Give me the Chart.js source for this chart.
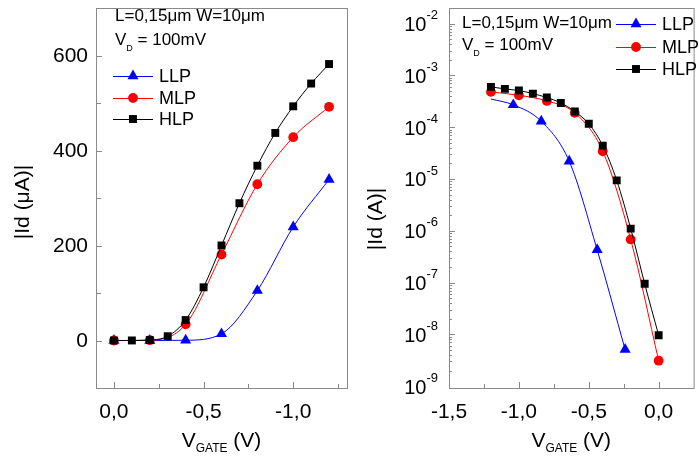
<!DOCTYPE html>
<html>
<head>
<meta charset="utf-8">
<script src="https://cdn.jsdelivr.net/npm/chart.js@4.4.0/dist/chart.umd.min.js"></script>
<style>
  html, body { margin: 0; padding: 0; background: #fff; overflow: hidden; }
  #wrap { position: relative; width: 699px; height: 470px; }
  #linWrap { position: absolute; left: 0; top: 0; width: 360px; height: 470px; }
  #logWrap { position: absolute; left: 360px; top: 0; width: 340px; height: 470px; }
</style>
</head>
<body>
<div id="wrap">
  <div id="linWrap"><canvas id="linChart" width="360" height="470"></canvas></div>
  <div id="logWrap"><canvas id="logChart" width="340" height="470"></canvas></div>
</div>
<script>
// ---- data: left panel, |Id| in uA ----
const linGateHLP = [0, -0.1, -0.2, -0.3, -0.4, -0.5, -0.6, -0.7, -0.8, -0.9, -1.0, -1.1, -1.2];
const linGateStep = [0, -0.2, -0.4, -0.6, -0.8, -1.0, -1.2];
const linLLP = [0, 0, 0.5, 14, 105, 239, 339];
const linMLP = [0, 0.7, 34, 181, 329, 428, 492];
const linHLP = [0, 0.1, 1, 9, 43, 112, 200, 289, 368, 437, 493, 541, 582];

// ---- data: right panel, |Id| in A ----
const logGateHLP = [-1.2, -1.1, -1.0, -0.9, -0.8, -0.7, -0.6, -0.5, -0.4, -0.3, -0.2, -0.1, 0];
const logHLP = [6.0e-4, 5.48e-4, 5.09e-4, 4.45e-4, 3.73e-4, 2.94e-4, 2.0e-4, 1.16e-4, 4.4e-5, 9.4e-6, 1.1e-6, 9.5e-8, 9.6e-9];
const logGateMLP = [-1.2, -1.0, -0.8, -0.6, -0.4, -0.2, 0];
const logMLP = [4.8e-4, 4.13e-4, 3.21e-4, 1.89e-4, 3.43e-5, 6.8e-7, 3.1e-9];
const logGateLLP = [-1.2, -1.04, -0.84, -0.64, -0.44, -0.24];
const logLLP = [3.5e-4, 2.7e-4, 1.3e-4, 2.2e-5, 4.3e-7, 5.1e-9];

const seriesNames = ['LLP', 'MLP', 'HLP'];
const seriesColors = ['#0000ff', '#ff0000', '#000000'];
const seriesMarkers = ['triangle', 'circle', 'rect'];
const seriesRadius = [6.4, 4.9, 5.6];

const FONT = '"Liberation Sans", Arial, Helvetica, sans-serif';
const frameColor = '#8a8a8a';

function zip(xs, ys) { return xs.map((x, i) => ({ x: x, y: ys[i] })); }
function fmtComma(v) { return (Math.abs(v) < 1e-9 ? 0 : v).toFixed(1).replace('.', ','); }
function onStep(v, step) { return Math.abs(v / step - Math.round(v / step)) < 1e-6; }

function makeDatasets(lists) {
  return lists.map((pts, i) => ({
    label: seriesNames[i],
    data: pts.data,
    borderColor: seriesColors[i],
    backgroundColor: seriesColors[i],
    pointBackgroundColor: seriesColors[i],
    pointStyle: seriesMarkers[i],
    pointRadius: pts.radius || seriesRadius[i],
    pointBorderWidth: 0,
    borderWidth: 1,
    cubicInterpolationMode: 'monotone',
    order: 3 - i
  }));
}

// mixed text with sub/superscripts: parts = [[text, size, dy]]
function drawRich(ctx, parts, x, y, align) {
  let total = 0;
  parts.forEach(p => { ctx.font = p[1] + 'px ' + FONT; total += ctx.measureText(p[0]).width; });
  let cx = align === 'center' ? x - total / 2 : (align === 'right' ? x - total : x);
  ctx.textAlign = 'left';
  ctx.textBaseline = 'middle';
  parts.forEach(p => {
    ctx.font = p[1] + 'px ' + FONT;
    ctx.fillText(p[0], cx, y + p[2]);
    cx += ctx.measureText(p[0]).width;
  });
}

function drawMarker(ctx, style, r, x, y, color) {
  ctx.fillStyle = color;
  if (Chart.helpers && Chart.helpers.drawPoint) {
    Chart.helpers.drawPoint(ctx, { pointStyle: style, radius: r, rotation: 0, borderWidth: 0 }, x, y);
  }
}

// tick every quarter volt inside the axis range
function quarterTicks(scale) {
  const list = [];
  for (let k = Math.ceil(scale.min / 0.25 - 1e-9); k * 0.25 <= scale.max + 1e-9; k++) {
    list.push({ value: k * 0.25 });
  }
  scale.ticks = list;
}

function panelPlugin(cfg) {
  return {
    id: 'panel',
    beforeDatasetsDraw(chart) {
      const { ctx, chartArea: a } = chart;
      const xs = chart.scales.x, ys = chart.scales.y;
      ctx.save();
      ctx.strokeStyle = frameColor;
      ctx.lineWidth = 1;
      ctx.strokeRect(a.left + 0.5, a.top + 0.5, a.right - a.left, a.bottom - a.top);
      ctx.beginPath();
      xs.ticks.forEach(t => {
        const px = Math.round(xs.getPixelForValue(t.value)) + 0.5;
        if (px <= a.left + 2 || px >= a.right - 2) return;
        const len = onStep(t.value, 0.5) ? 6 : 4;
        ctx.moveTo(px, a.bottom);
        ctx.lineTo(px, a.bottom - len);
      });
      ys.ticks.forEach(t => {
        const py = Math.round(ys.getPixelForValue(t.value)) + 0.5;
        if (py <= a.top + 2 || py >= a.bottom - 2) return;
        const len = cfg.isMajorY(t.value) ? 6 : (cfg.log ? 3 : 5);
        ctx.moveTo(a.left, py);
        ctx.lineTo(a.left + len, py);
      });
      ctx.stroke();
      ctx.restore();
    },
    afterDraw(chart) {
      const { ctx, chartArea: a } = chart;
      const xs = chart.scales.x, ys = chart.scales.y;
      ctx.save();
      ctx.fillStyle = '#000';
      // x tick labels
      ctx.font = '21px ' + FONT;
      ctx.textAlign = 'center';
      ctx.textBaseline = 'middle';
      xs.ticks.forEach(t => {
        if (!onStep(t.value, 0.5)) return;
        const px = xs.getPixelForValue(t.value);
        if (px > a.right - 3) return;
        ctx.fillText(fmtComma(t.value), px, 412);
      });
      // y tick labels
      ys.ticks.forEach(t => {
        if (!cfg.isMajorY(t.value)) return;
        const py = ys.getPixelForValue(t.value);
        if (cfg.log) {
          const e = Math.round(Math.log10(t.value));
          drawRich(ctx, [['10', 20, 2], [String(e), 13, -8]], a.left - 11, py, 'right');
        } else {
          if (t.value < 0 || py < a.top + 3) return;
          ctx.font = '21px ' + FONT;
          ctx.textAlign = 'right';
          ctx.textBaseline = 'middle';
          ctx.fillText(String(t.value), a.left - 8, py + 1);
        }
      });
      // x title
      drawRich(ctx, [['V', 21, 0], ['GATE', 12, 8], [' (V)', 21, 0]], (a.left + Math.min(a.right, chart.width)) / 2, 441, 'center');
      // y title
      ctx.save();
      ctx.translate(cfg.yTitleX, cfg.yTitleY);
      ctx.rotate(-Math.PI / 2);
      ctx.font = '21px ' + FONT;
      ctx.textAlign = 'center';
      ctx.textBaseline = 'middle';
      ctx.fillText(cfg.yTitle, 0, 0);
      ctx.restore();
      // annotations
      drawRich(ctx, [['L=0,15μm W=10μm', 17, 0]], cfg.noteX, cfg.noteY1, 'left');
      drawRich(ctx, [['V', 17, 0], ['D', 9, 9], [' = 100mV', 17, 0]], cfg.noteX, cfg.noteY2, 'left');
      // legend
      seriesNames.forEach((name, i) => {
        const ly = cfg.legY[i];
        ctx.strokeStyle = seriesColors[i];
        ctx.lineWidth = 1;
        ctx.beginPath();
        ctx.moveTo(cfg.legX, ly + 0.5);
        ctx.lineTo(cfg.legX + 40, ly + 0.5);
        ctx.stroke();
        drawMarker(ctx, seriesMarkers[i], seriesRadius[i], cfg.legX + 20, ly, seriesColors[i]);
        ctx.fillStyle = '#000';
        drawRich(ctx, [[name, 18, 0]], cfg.legX + 46, ly + 1, 'left');
      });
      ctx.restore();
    }
  };
}

function axisBox(width, height) {
  return function (scale) {
    if (width !== null) scale.width = width;
    if (height !== null) scale.height = height;
  };
}

// ---- left panel: linear ----
new Chart(document.getElementById('linChart'), {
  type: 'line',
  data: {
    datasets: makeDatasets([
      { data: zip(linGateStep, linLLP) },
      { data: zip(linGateStep, linMLP) },
      { data: zip(linGateHLP, linHLP) }
    ])
  },
  options: {
    responsive: false,
    animation: false,
    devicePixelRatio: 1,
    layout: { padding: { top: 8, right: 13, left: 0, bottom: 0 } },
    plugins: { legend: { display: false }, tooltip: { enabled: false } },
    scales: {
      x: {
        type: 'linear', reverse: true, min: -1.3, max: 0.1,
        grid: { display: false, drawTicks: false }, border: { display: false },
        ticks: { display: false, stepSize: 0.25 },
        afterBuildTicks: quarterTicks,
        afterFit: axisBox(null, 82)
      },
      y: {
        type: 'linear', min: -100, max: 700,
        grid: { display: false, drawTicks: false }, border: { display: false },
        ticks: { display: false, stepSize: 100 },
        afterFit: axisBox(96, null)
      }
    }
  },
  plugins: [panelPlugin({
    log: false,
    isMajorY: v => onStep(v, 200),
    yTitle: '|Id (μA)|', yTitleX: 23, yTitleY: 202,
    noteX: 115, noteY1: 16, noteY2: 40,
    legX: 113, legY: [76, 98, 119]
  })]
});

// ---- right panel: logarithmic ----
new Chart(document.getElementById('logChart'), {
  type: 'line',
  data: {
    datasets: makeDatasets([
      { data: zip(logGateLLP, logLLP), radius: logGateLLP.map((g, i) => i === 0 ? 0 : seriesRadius[0]) },
      { data: zip(logGateMLP, logMLP) },
      { data: zip(logGateHLP, logHLP) }
    ])
  },
  options: {
    responsive: false,
    animation: false,
    devicePixelRatio: 1,
    layout: { padding: { top: 8, right: 0, left: 0, bottom: 0 } },
    plugins: { legend: { display: false }, tooltip: { enabled: false } },
    scales: {
      x: {
        type: 'linear', min: -1.5, max: 0.25,
        grid: { display: false, drawTicks: false }, border: { display: false },
        ticks: { display: false, stepSize: 0.25 },
        afterBuildTicks: quarterTicks,
        afterFit: axisBox(null, 82)
      },
      y: {
        type: 'logarithmic', min: 9.2e-10, max: 2e-2,
        grid: { display: false, drawTicks: false }, border: { display: false },
        ticks: { display: false },
        afterBuildTicks: function (scale) {
          const list = [];
          for (let e = -9; e <= -2; e++) {
            for (let m = 1; m <= 9; m++) {
              const v = m * Math.pow(10, e);
              if (v <= scale.max) list.push({ value: v });
            }
          }
          scale.ticks = list;
        },
        afterFit: axisBox(89, null)
      }
    }
  },
  plugins: [panelPlugin({
    log: true,
    isMajorY: v => Math.abs(Math.log10(v) - Math.round(Math.log10(v))) < 1e-6,
    yTitle: '|Id (A)|', yTitleX: 16, yTitleY: 219,
    noteX: 102, noteY1: 23, noteY2: 45,
    legX: 256, legY: [24, 47, 69]
  })]
});
</script>
</body>
</html>
